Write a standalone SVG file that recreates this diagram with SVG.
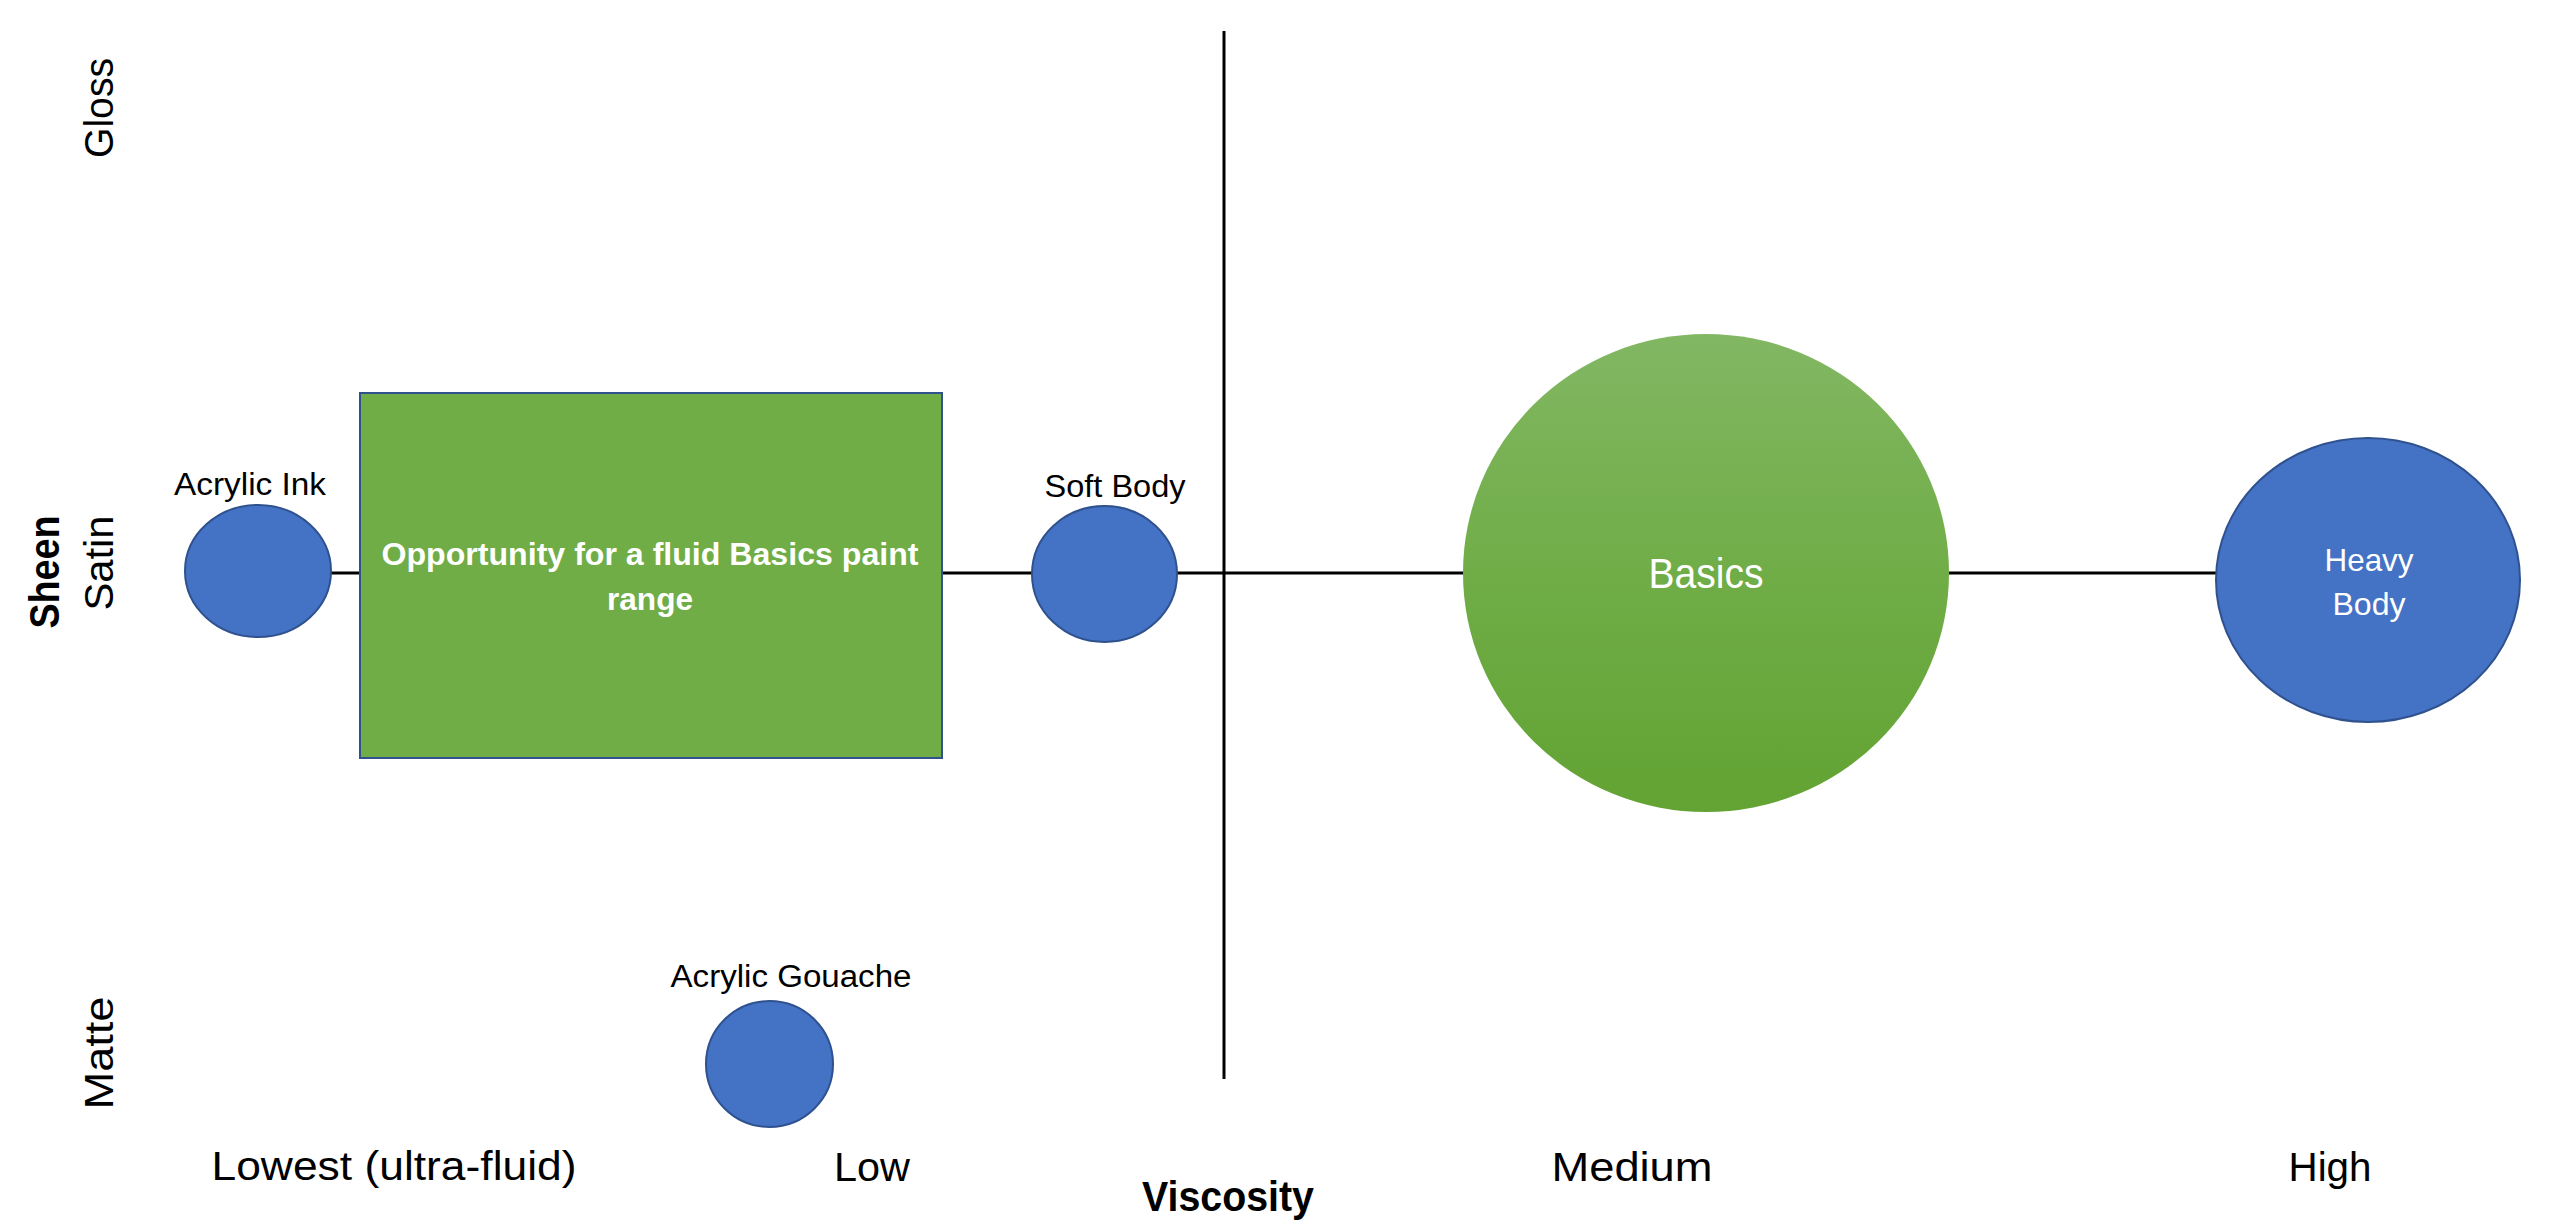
<svg xmlns="http://www.w3.org/2000/svg" width="2560" height="1232" viewBox="0 0 2560 1232">
<defs>
<style>
text{font-family:"Liberation Sans",Arial,sans-serif;fill:#000}
.lbl{font-size:31px}
.ax{font-size:40px}
.axb{font-size:42px;font-weight:bold}
.w{fill:#fff}
.b{font-weight:bold}
.blue{fill:#4472C4;stroke:#2F528F;stroke-width:2}
.conn{stroke:#000;stroke-width:3;fill:none}
</style>
<linearGradient id="gg" x1="0" y1="0" x2="0" y2="1">
<stop offset="0" stop-color="#82B763"/>
<stop offset="0.5" stop-color="#70AD47"/>
<stop offset="1" stop-color="#62A333"/>
</linearGradient>
</defs>
<rect width="2560" height="1232" fill="#fff"/>
<g id="connectors">
<line class="conn" x1="1224" y1="31" x2="1224" y2="1079"/>
<line class="conn" x1="331" y1="573" x2="2217" y2="573"/>
</g>
<g id="axis-labels">
<text class="ax" transform="translate(113,108) rotate(-90)" text-anchor="middle" textLength="100" lengthAdjust="spacingAndGlyphs">Gloss</text>
<text class="ax" transform="translate(113,563) rotate(-90)" text-anchor="middle" textLength="95" lengthAdjust="spacingAndGlyphs">Satin</text>
<text class="ax" transform="translate(113,1053) rotate(-90)" text-anchor="middle" textLength="113" lengthAdjust="spacingAndGlyphs">Matte</text>
<text class="axb" transform="translate(59,572) rotate(-90)" text-anchor="middle" textLength="113" lengthAdjust="spacingAndGlyphs">Sheen</text>
<text class="ax" x="394" y="1180" text-anchor="middle" textLength="365" lengthAdjust="spacingAndGlyphs">Lowest (ultra-fluid)</text>
<text class="ax" x="872" y="1181" text-anchor="middle" textLength="76" lengthAdjust="spacingAndGlyphs">Low</text>
<text class="ax" x="1632" y="1181" text-anchor="middle" textLength="161" lengthAdjust="spacingAndGlyphs">Medium</text>
<text class="ax" x="2330" y="1181" text-anchor="middle" textLength="83" lengthAdjust="spacingAndGlyphs">High</text>
<text class="axb" x="1228" y="1211" text-anchor="middle" textLength="172" lengthAdjust="spacingAndGlyphs">Viscosity</text>
</g>
<g id="acrylic-ink">
<ellipse class="blue" cx="258" cy="571" rx="73" ry="66"/>
<text class="lbl" x="250" y="495" text-anchor="middle" textLength="152" lengthAdjust="spacingAndGlyphs">Acrylic Ink</text>
</g>
<g id="opportunity">
<rect x="360" y="393" width="582" height="365" fill="#70AD47" stroke="#2F528F" stroke-width="2"/>
<text class="lbl w b" x="650" y="565" text-anchor="middle" textLength="537" lengthAdjust="spacingAndGlyphs">Opportunity for a fluid Basics paint</text>
<text class="lbl w b" x="650" y="610" text-anchor="middle" textLength="86" lengthAdjust="spacingAndGlyphs">range</text>
</g>
<g id="soft-body">
<ellipse class="blue" cx="1104.5" cy="574" rx="72.5" ry="68"/>
<text class="lbl" x="1115" y="497" text-anchor="middle" textLength="141" lengthAdjust="spacingAndGlyphs">Soft Body</text>
</g>
<g id="basics">
<ellipse cx="1706" cy="573" rx="243" ry="239" fill="url(#gg)"/>
<text class="w" x="1706" y="588" text-anchor="middle" font-size="42" textLength="115" lengthAdjust="spacingAndGlyphs">Basics</text>
</g>
<g id="heavy-body">
<ellipse class="blue" cx="2368" cy="580" rx="152" ry="142"/>
<text class="w" x="2369" y="571" text-anchor="middle" font-size="32" textLength="89" lengthAdjust="spacingAndGlyphs">Heavy</text>
<text class="w" x="2369" y="615" text-anchor="middle" font-size="32" textLength="73" lengthAdjust="spacingAndGlyphs">Body</text>
</g>
<g id="acrylic-gouache">
<ellipse class="blue" cx="769.5" cy="1064" rx="63.5" ry="63"/>
<text class="lbl" x="791" y="987" text-anchor="middle" textLength="241" lengthAdjust="spacingAndGlyphs">Acrylic Gouache</text>
</g>
</svg>
